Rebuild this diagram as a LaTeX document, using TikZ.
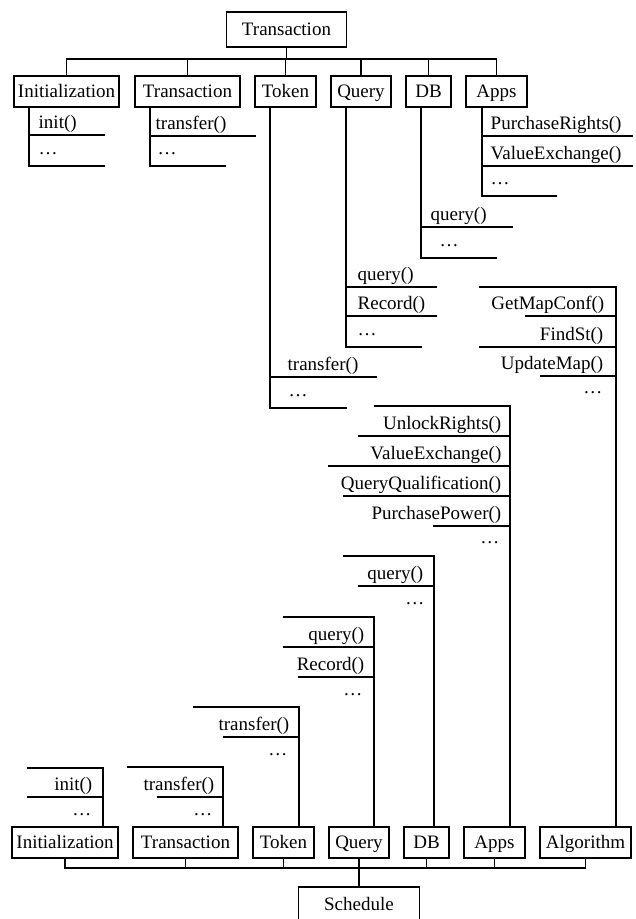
\documentclass[tikz,border=0pt]{standalone}
\usepackage{fontspec}
\setmainfont{Liberation Serif}
\usepackage{tikz}

\newcommand{\dd}{\raisebox{5pt}{\textellipsis}}

\begin{document}
\begin{tikzpicture}[x=1pt, y=-1pt, line width=1.4pt,
        font=\fontsize{19}{22}\selectfont,
        box/.style={draw, rectangle, minimum height=31pt, inner sep=0pt, text height=14pt, text depth=3pt},
        lm/.style={anchor=base west, inner sep=0pt},
        rm/.style={anchor=base east, inner sep=0pt}]

        \useasboundingbox (0,0) rectangle (635,919);

        % top tree
        \node[box, minimum width=120pt, minimum height=35pt] (tr) at (286.5,29.5) {Transaction};
        \node[box, minimum width=105pt] (i1) at (66.5,91.5) {Initialization};
        \node[box, minimum width=105pt] (t1) at (187.5,91.5) {Transaction};
        \node[box, minimum width=61pt] (k1) at (285.5,91.5) {Token};
        \node[box, minimum width=60pt] (q1) at (361,91.5) {Query};
        \node[box, minimum width=45pt] (d1) at (428.5,91.5) {DB};
        \node[box, minimum width=61pt] (a1) at (496.5,91.5) {Apps};

        \coordinate (topbar) at (0,59);
        \draw (i1.north) -- (i1.north |- topbar) -- (a1.north |- topbar) -- (a1.north);
        \draw (tr.south) -- (tr.south |- topbar);
        \draw (t1.north) -- (t1.north |- topbar);
        \draw (k1.north) -- (k1.north |- topbar);
        \draw (q1.north) -- (q1.north |- topbar);
        \draw (d1.north) -- (d1.north |- topbar);

        \draw (i1.south -| 29,0) -- (29,166) -- (105,166);
        \draw (29,135) -- (105,135);
        \node[lm] (i1a) at (38,128) {init()};
        \node[lm] (i1b) at (38,159) {\dd};

        \draw (t1.south -| 150,0) -- (150,166) -- (226,166);
        \draw (150,136) -- (256,136);
        \node[lm] (t1a) at (155,129) {transfer()};
        \node[lm] (t1b) at (157,159) {\dd};

        \draw (k1.south -| 270,0) -- (270,408) -- (347,408);
        \draw (270,377) -- (377,377);
        \node[lm] (k1a) at (287,370) {transfer()};
        \node[lm] (k1b) at (288,401) {\dd};

        \draw (q1.south -| 346,0) -- (346,347) -- (422,347);
        \draw (346,287) -- (437,287);
        \draw (346,316) -- (437,316);
        \node[lm] (q1a) at (357,280) {query()};
        \node[lm] (q1b) at (357,309) {Record()};
        \node[lm] (q1c) at (357,340) {\dd};

        \draw (d1.south -| 421,0) -- (421,258) -- (497,258);
        \draw (421,227) -- (513,227);
        \node[lm] (d1a) at (430,220) {query()};
        \node[lm] (d1b) at (439,251) {\dd};

        \draw (a1.south -| 482,0) -- (482,196) -- (557,196);
        \draw (482,136) -- (633,136);
        \draw (482,166) -- (633,166);
        \node[lm] (a1a) at (490,129) {PurchaseRights()};
        \node[lm] (a1b) at (490,159) {ValueExchange()};
        \node[lm] (a1c) at (490,189) {\dd};

        % bottom tree
        \node[box, minimum width=106pt] (i2) at (65,842.5) {Initialization};
        \node[box, minimum width=105pt] (t2) at (185.5,842.5) {Transaction};
        \node[box, minimum width=61pt] (k2) at (283.5,842.5) {Token};
        \node[box, minimum width=60pt] (q2) at (359,842.5) {Query};
        \node[box, minimum width=45pt] (d2) at (426.5,842.5) {DB};
        \node[box, minimum width=61pt] (a2) at (494.5,842.5) {Apps};
        \node[box, minimum width=91pt] (g2) at (585.5,842.5) {Algorithm};
        \node[box, minimum width=121pt, minimum height=35pt] (sc) at (359,904.5) {Schedule};

        \coordinate (botbar) at (0,868);
        \draw (i2.south) -- (i2.south |- botbar) -- (g2.south |- botbar) -- (g2.south);
        \draw (t2.south) -- (t2.south |- botbar);
        \draw (k2.south) -- (k2.south |- botbar);
        \draw (d2.south) -- (d2.south |- botbar);
        \draw (a2.south) -- (a2.south |- botbar);
        \draw (q2.south) -- (q2.south |- sc.north);

        \draw (27,768) -- (103,768) -- (i2.north -| 103,0);
        \draw (27,797) -- (103,797);
        \node[rm] (i2a) at (93,790) {init()};
        \node[rm] (i2b) at (92,820) {\dd};

        \draw (127,767) -- (223,767) -- (t2.north -| 223,0);
        \draw (157,797) -- (223,797);
        \node[rm] (t2a) at (215,790) {transfer()};
        \node[rm] (t2b) at (213,820) {\dd};

        \draw (193,707) -- (299,707) -- (k2.north -| 299,0);
        \draw (223,737) -- (299,737);
        \node[rm] (k2a) at (290,730) {transfer()};
        \node[rm] (k2b) at (288,760) {\dd};

        \draw (283,617) -- (374,617) -- (q2.north -| 374,0);
        \draw (283,647) -- (374,647);
        \draw (298,677) -- (374,677);
        \node[rm] (q2a) at (365,640) {query()};
        \node[rm] (q2b) at (365,670) {Record()};
        \node[rm] (q2c) at (363,700) {\dd};

        \draw (343,556) -- (434,556) -- (d2.north -| 434,0);
        \draw (358,586) -- (434,586);
        \node[rm] (d2a) at (424,579) {query()};
        \node[rm] (d2b) at (425,609) {\dd};

        \draw (374,406) -- (510,406) -- (a2.north -| 510,0);
        \draw (358,436) -- (510,436);
        \draw (328,466) -- (510,466);
        \draw (343,496) -- (510,496);
        \draw (433,526) -- (510,526);
        \node[rm] (a2a) at (502,429) {UnlockRights()};
        \node[rm] (a2b) at (502,459) {ValueExchange()};
        \node[rm] (a2c) at (502,489) {QueryQualification()};
        \node[rm] (a2d) at (502,519) {PurchasePower()};
        \node[rm] (a2e) at (500,548) {\dd};

        \draw (479,287) -- (616,287) -- (g2.north -| 616,0);
        \draw (525,316) -- (616,316);
        \draw (479,347) -- (616,347);
        \draw (540,376) -- (616,376);
        \node[rm] (g2a) at (605,309) {GetMapConf()};
        \node[rm] (g2b) at (604,340) {FindSt()};
        \node[rm] (g2c) at (604,369) {UpdateMap()};
        \node[rm] (g2d) at (603,398) {\dd};
    \end{tikzpicture}
\end{document}
